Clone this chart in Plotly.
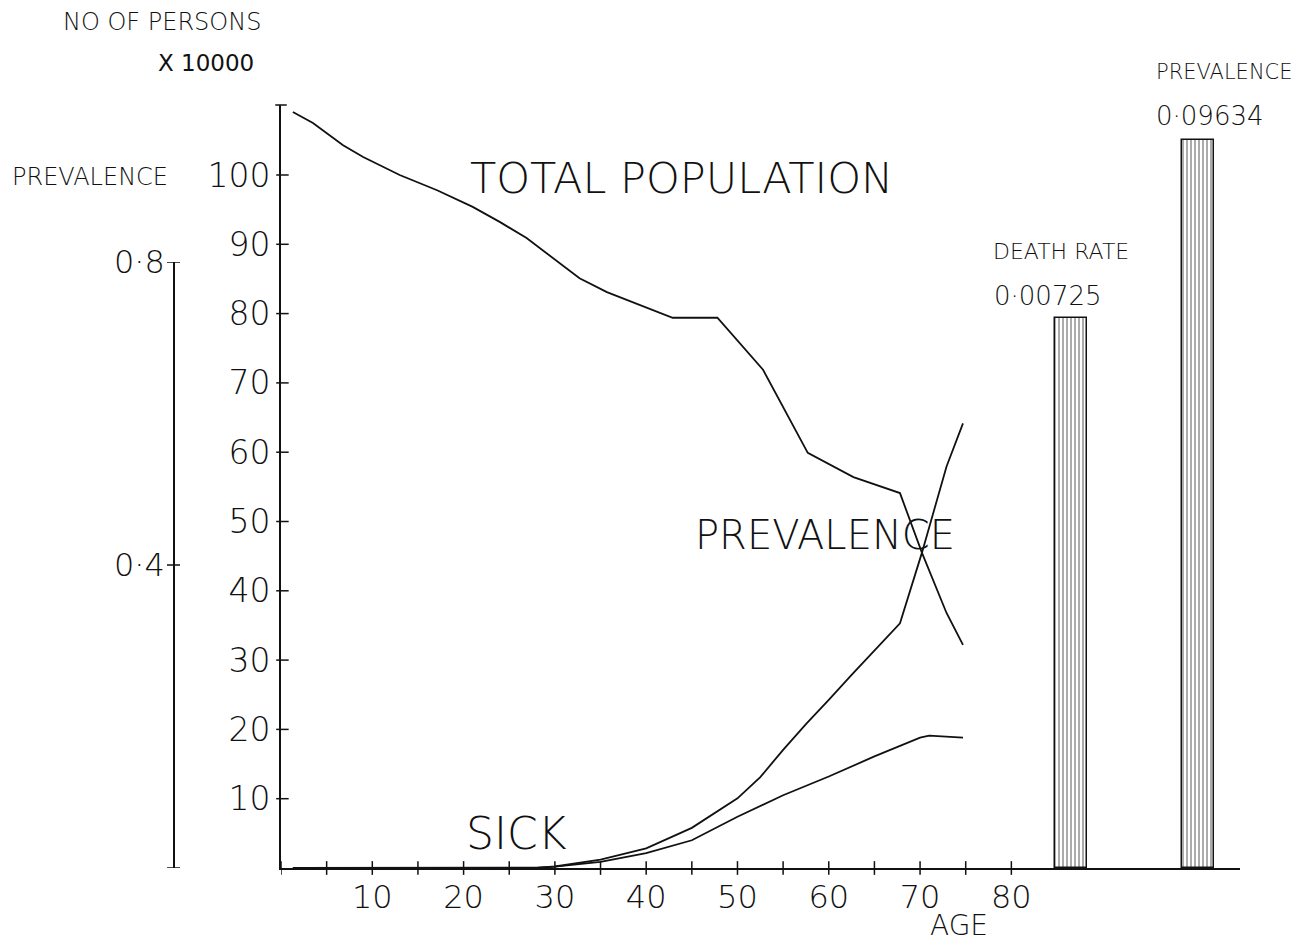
import plotly.graph_objects as go

# ---------------- data ----------------
age_total = [1.3, 3.5, 6.8, 9.0, 13.0, 17.1, 21.0, 24.0, 26.9, 29.8, 32.7, 35.7,
             39.3, 42.9, 47.8, 52.8, 57.7, 62.7, 67.8, 70.2, 72.9, 74.7]
total_pop = [109.1, 107.5, 104.3, 102.6, 100.0, 97.8, 95.4, 93.2, 90.9, 88.0, 85.1, 83.1,
             81.2, 79.4, 79.4, 71.9, 59.9, 56.4, 54.1, 45.5, 36.8, 32.2]

age_sick = [1.3, 10, 20, 25, 28, 30, 35, 40, 45, 50, 55, 60, 65, 70, 71, 74.7]
sick = [0, 0, 0, 0, 0.05, 0.2, 0.87, 2.16, 4.0, 7.4, 10.5, 13.2, 16.1, 18.8, 19.1, 18.8]

age_prev = [1.3, 10, 20, 25, 28, 30, 35, 40, 45, 50, 52.5, 55, 57.5, 60, 62.5,
            67.8, 70.2, 72.9, 74.7]
prevalence = [0, 0, 0, 0, 0.0, 0.002, 0.011, 0.026, 0.053, 0.092, 0.120, 0.156, 0.19,
              0.222, 0.255, 0.323, 0.416, 0.530, 0.587]

bar_names = ["DEATH RATE", "PREVALENCE"]
bar_value_text = ["0·00725", "0·09634"]
bar_pos = [86.5, 100.4]
bar_height = [79.4, 105.1]

x_tick_marks = list(range(0, 85, 5))
x_tick_labels_at = [10, 20, 30, 40, 50, 60, 70, 80]
y_tick_vals = [10, 20, 30, 40, 50, 60, 70, 80, 90, 100]
prev_tick_vals = [0, 0.4, 0.8]
prev_tick_labels_at = [0.4, 0.8]
prev_tick_text = ["0·4", "0·8"]

# ---------------- layout constants ----------------
W, H = 1312, 944
INK = "#111111"
FONT = "DejaVu Sans"
XDOM = [281 / W, 1239.6 / W]
YDOM = [(H - 868) / H, (H - 105) / H]
Y2DOM = [(H - 868) / H, (H - 262) / H]
Y2POS = 174 / W
CLEAR = "rgba(0,0,0,0)"

fig = go.Figure()

fig.add_trace(go.Bar(x=bar_pos, y=bar_height, width=3.5, xaxis="x", yaxis="y",
                     marker=dict(color="white",
                                 line=dict(color=INK, width=1.5),
                                 pattern=dict(shape="|", fgcolor=INK, bgcolor="white",
                                              size=4, solidity=0.35))))
fig.add_trace(go.Scatter(x=age_total, y=total_pop, mode="lines",
                         line=dict(color=INK, width=1.8), xaxis="x", yaxis="y"))
fig.add_trace(go.Scatter(x=age_sick, y=sick, mode="lines",
                         line=dict(color=INK, width=1.8), xaxis="x", yaxis="y"))
fig.add_trace(go.Scatter(x=age_prev, y=prevalence, mode="lines",
                         line=dict(color=INK, width=1.8), xaxis="x", yaxis="y2"))

shapes = []
for t in x_tick_marks:
    shapes.append(dict(type="line", xref="x", yref="y domain", x0=t, x1=t,
                       y0=-0.009, y1=0.009, line=dict(color=INK, width=1.5)))
for t in y_tick_vals:
    shapes.append(dict(type="line", xref="x domain", yref="y", x0=-0.005, x1=0.008,
                       y0=t, y1=t, line=dict(color=INK, width=1.5)))
# cap at top of main axis
shapes.append(dict(type="line", xref="x domain", yref="y domain", x0=-0.006, x1=0.006,
                   y0=1, y1=1, line=dict(color=INK, width=1.5)))
for t in prev_tick_vals:
    shapes.append(dict(type="line", xref="paper", yref="y2", x0=Y2POS - 7 / W,
                       x1=Y2POS + 6 / W, y0=t, y1=t, line=dict(color=INK, width=1.5)))

def ann(text, x, y, size, xanchor="center", xref="x", yref="y", weight=200):
    return dict(text=text, x=x, y=y, xref=xref, yref=yref, showarrow=False,
                xanchor=xanchor, yanchor="middle", borderpad=0,
                font=dict(family=FONT, size=size, color=INK, weight=weight))

annotations = [
    ann("NO OF PERSONS", 161.5 / W, (H - 22) / H, 24, xref="paper", yref="paper"),
    ann("X 10000", 206.5 / W, (H - 63) / H, 23, xref="paper", yref="paper", weight=400),
    ann("PREVALENCE", 90 / W, (H - 177) / H, 24, xref="paper", yref="paper"),
    ann("TOTAL POPULATION", 43.86, 99.6, 43),
    ann("PREVALENCE", 59.6, 48.05, 40),
    ann("SICK", 25.8, 5.05, 44),
    ann("AGE", 958.5 / W, (H - 925) / H, 28, xref="paper", yref="paper"),
    ann(bar_names[0], 77.9, 89.0, 22, xanchor="left"),
    ann(bar_value_text[0], 78.0, 82.5, 26, xanchor="left"),
    ann(bar_names[1], 1155 / W, (H - 72) / H, 21, xanchor="left", xref="paper", yref="paper"),
    ann(bar_value_text[1], 95.7, 108.5, 26, xanchor="left"),
]

fig.update_layout(
    width=W, height=H,
    margin=dict(l=0, r=0, t=0, b=0, pad=0),
    paper_bgcolor="white", plot_bgcolor=CLEAR,
    showlegend=False, hovermode=False,
    font=dict(family=FONT, color=INK, weight=200),
    xaxis=dict(domain=XDOM, range=[0, 105], anchor="y", automargin=False,
               showgrid=False, zeroline=False, showline=True, linecolor=INK, linewidth=1.8,
               ticks="", tickvals=x_tick_labels_at,
               ticktext=[str(v) for v in x_tick_labels_at],
               tickfont=dict(family=FONT, size=32, color=INK, weight=200),
               ticklabelstandoff=0),
    yaxis=dict(domain=YDOM, range=[0, 110.1], anchor="x", automargin=False,
               showgrid=False, zeroline=False, showline=True, linecolor=INK, linewidth=1.8,
               ticks="", tickvals=y_tick_vals, ticktext=[str(v) for v in y_tick_vals],
               tickfont=dict(family=FONT, size=33, color=INK, weight=200),
               ticklabelstandoff=2),
    yaxis2=dict(domain=Y2DOM, range=[0, 0.8], anchor="free", position=Y2POS,
                automargin=False,
                showgrid=False, zeroline=False, showline=True, linecolor=INK, linewidth=1.5,
                ticks="", tickvals=prev_tick_labels_at, ticktext=prev_tick_text,
                tickfont=dict(family=FONT, size=32, color=INK, weight=200),
                ticklabelstandoff=2),
    shapes=shapes,
    annotations=annotations,
    bargap=0,
)

fig.write_html("out.html")
